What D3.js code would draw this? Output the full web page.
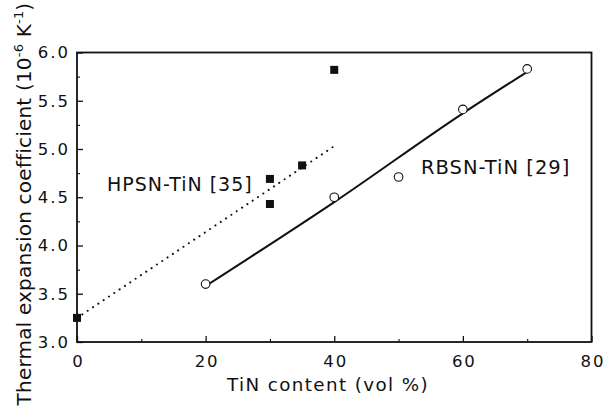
<!DOCTYPE html>
<html>
<head>
<meta charset="utf-8">
<script src="https://cdn.jsdelivr.net/npm/d3@7"></script>
<style>
  html, body { margin: 0; padding: 0; background: #fff; }
  svg { display: block; }
  text { font-family: "DejaVu Sans", "Liberation Sans", Arial, sans-serif; fill: #111; }
</style>
</head>
<body>
<svg id="chart" width="605" height="410"></svg>
<script>
// ---- data ----
const hpsnX = [0, 30, 30, 35, 40];
const hpsnY = [3.25, 4.69, 4.43, 4.83, 5.82];
const rbsnX = [20, 40, 50, 60, 70];
const rbsnY = [3.60, 4.50, 4.71, 5.41, 5.83];
const hpsnFitX = [0, 40];
const hpsnFitY = [3.25, 5.03];
const rbsnFitX = [20, 40, 60, 70];
const rbsnFitY = [3.58, 4.45, 5.37, 5.80];
const xTicks = [0, 20, 40, 60, 80];
const xMinor = [10, 30, 50, 70];
const yTicks = [3.0, 3.5, 4.0, 4.5, 5.0, 5.5, 6.0];
const yMinor = [3.25, 3.75, 4.25, 4.75, 5.25, 5.75];
const hpsnLabel = "HPSN-TiN [35]";
const rbsnLabel = "RBSN-TiN [29]";

const W = 605, H = 410;
const m = { left: 77, right: 13.5, top: 52.5, bottom: 68 };
const svg = d3.select("#chart");
const FONT = "'DejaVu Sans', 'Liberation Sans', Arial, sans-serif";

const x = d3.scaleLinear().domain([0, 80]).range([m.left, W - m.right]);
const y = d3.scaleLinear().domain([3.0, 6.0]).range([H - m.bottom, m.top]);

const g = svg.append("g");

// frame
g.append("rect")
  .attr("x", x(0)).attr("y", y(6))
  .attr("width", x(80) - x(0)).attr("height", y(3) - y(6))
  .attr("fill", "none").attr("stroke", "#111").attr("stroke-width", 1.8);

// x axis ticks (inward) + labels
const xAxis = d3.axisBottom(x).tickValues(xTicks).tickSizeInner(-6).tickSizeOuter(0).tickPadding(13)
  .tickFormat(d3.format("d"));
const xg = g.append("g").attr("transform", `translate(0,${y(3)})`).call(xAxis);
xg.select(".domain").remove();
xg.selectAll("line").attr("stroke", "#111").attr("stroke-width", 1.3);
xg.selectAll("text").style("font-size", "16.5px").style("letter-spacing", "2px")
  .attr("dx", "1px").attr("fill", "#111").style("font-family", FONT);
const xgm = g.append("g").attr("transform", `translate(0,${y(3)})`)
  .call(d3.axisBottom(x).tickValues(xMinor).tickSizeInner(-3).tickSizeOuter(0).tickFormat(""));
xgm.select(".domain").remove();
xgm.selectAll("line").attr("stroke", "#111").attr("stroke-width", 1.1);

// y axis
const yAxis = d3.axisLeft(y).tickValues(yTicks).tickSizeInner(-6).tickSizeOuter(0).tickPadding(7)
  .tickFormat(d3.format(".1f"));
const yg = g.append("g").attr("transform", `translate(${x(0)},0)`).call(yAxis);
yg.select(".domain").remove();
yg.selectAll("line").attr("stroke", "#111").attr("stroke-width", 1.3);
yg.selectAll("text").style("font-size", "16.5px").style("letter-spacing", "2px")
  .attr("fill", "#111").style("font-family", FONT);
const ygm = g.append("g").attr("transform", `translate(${x(0)},0)`)
  .call(d3.axisLeft(y).tickValues(yMinor).tickSizeInner(-3).tickSizeOuter(0).tickFormat(""));
ygm.select(".domain").remove();
ygm.selectAll("line").attr("stroke", "#111").attr("stroke-width", 1.1);

// fit lines
const line = d3.line().x(d => x(d[0])).y(d => y(d[1]));
g.append("path")
  .datum(hpsnFitX.map((v, i) => [v, hpsnFitY[i]]))
  .attr("d", line).attr("fill", "none").attr("stroke", "#111")
  .attr("stroke-width", 2).attr("stroke-linecap", "round")
  .attr("stroke-dasharray", "0.1,6.3");
g.append("path")
  .datum(rbsnFitX.map((v, i) => [v, rbsnFitY[i]]))
  .attr("d", d3.line().curve(d3.curveMonotoneX).x(d => x(d[0])).y(d => y(d[1])))
  .attr("fill", "none").attr("stroke", "#111").attr("stroke-width", 2);

// markers
g.selectAll(".sq").data(hpsnX.map((v, i) => [v, hpsnY[i]])).join("rect")
  .attr("class", "sq")
  .attr("x", d => x(d[0]) - 4).attr("y", d => y(d[1]) - 4)
  .attr("width", 8).attr("height", 8).attr("fill", "#111");
g.selectAll(".ci").data(rbsnX.map((v, i) => [v, rbsnY[i]])).join("circle")
  .attr("class", "ci")
  .attr("cx", d => x(d[0])).attr("cy", d => y(d[1])).attr("r", 4.3)
  .attr("fill", "#fff").attr("stroke", "#111").attr("stroke-width", 1.1);

// series labels
g.append("text").attr("x", 107).attr("y", 190.5)
  .style("font-size", "19px").style("letter-spacing", "1px").text(hpsnLabel);
g.append("text").attr("x", 421).attr("y", 173.5)
  .style("font-size", "19.5px").style("letter-spacing", "1px").text(rbsnLabel);

// axis titles
g.append("text").attr("x", 227).attr("y", 390.5)
  .style("font-size", "18.3px").style("letter-spacing", "1.4px")
  .text("TiN content (vol %)");

const yt = g.append("text")
  .attr("transform", `translate(31,${(3 + 405) / 2}) rotate(-90)`)
  .attr("text-anchor", "middle").style("font-size", "20px").style("letter-spacing", "0.2px");
yt.append("tspan").text("Thermal expansion coefficient (10");
yt.append("tspan").attr("dy", -8).style("font-size", "13px").text("-6");
yt.append("tspan").attr("dy", 8).text(" K");
yt.append("tspan").attr("dy", -8).style("font-size", "13px").text("-1");
yt.append("tspan").attr("dy", 8).text(")");
</script>
</body>
</html>
